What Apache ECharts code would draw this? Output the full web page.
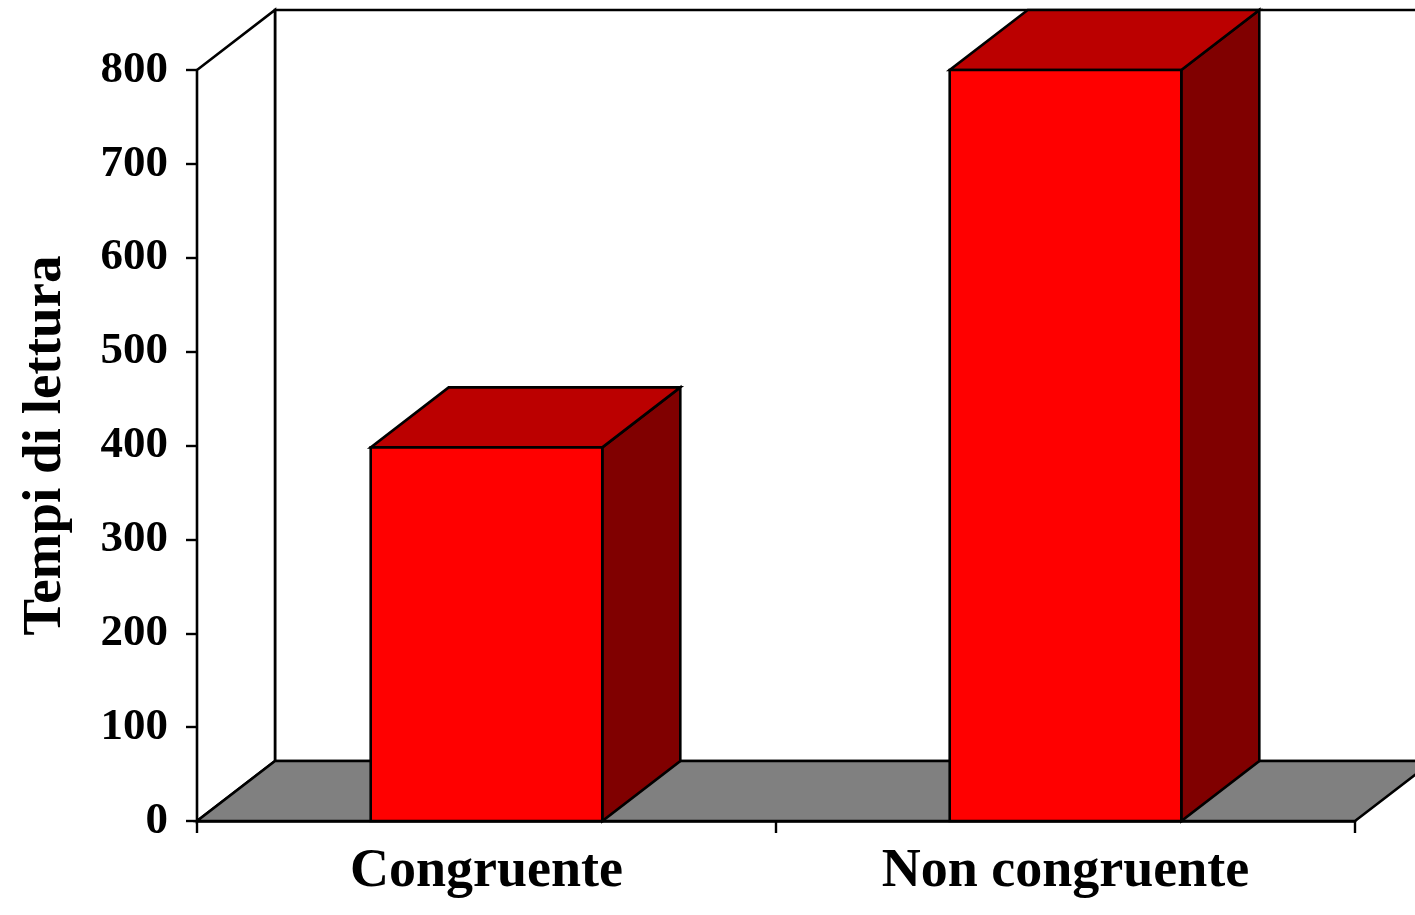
<!DOCTYPE html>
<html>
<head>
<meta charset="utf-8">
<title>Tempi di lettura</title>
<script src="https://cdn.jsdelivr.net/npm/echarts@6/dist/echarts.min.js"></script>
<style>
  html, body { margin: 0; padding: 0; background: #ffffff; }
  #chart { width: 1415px; height: 915px; }
</style>
</head>
<body>
<div id="chart"></div>
<script>
// Categories and mean reading times
const categories = ['Congruente', 'Non congruente'];
const readingTimes = [398, 800];

// Value axis range
const yMin = 0;
const yMax = 800;
const yStep = 100;
const yTitle = 'Tempi di lettura';

// Oblique depth of the 3D box (pixels)
const DEPTH_X = 78;
const DEPTH_Y = -60;
const FONT = '"Liberation Serif", "Times New Roman", serif';

const chart = echarts.init(document.getElementById('chart'), null, { renderer: 'canvas' });

const edge = { stroke: '#000000', lineWidth: 2.6, lineJoin: 'miter' };

// Walls and floor of the 3D plot area, built from the grid rectangle
function renderFrame(params, api) {
  const cs = params.coordSys;
  const x0 = cs.x, x1 = cs.x + cs.width;
  const yt = cs.y, yb = cs.y + cs.height;
  const dx = DEPTH_X, dy = DEPTH_Y;
  return {
    type: 'group',
    children: [
      { type: 'polygon', shape: { points: [[x0 + dx, yt + dy], [x1 + dx, yt + dy], [x1 + dx, yb + dy], [x0 + dx, yb + dy]] },
        style: Object.assign({ fill: '#ffffff' }, edge) },
      { type: 'polygon', shape: { points: [[x0, yt], [x0 + dx, yt + dy], [x0 + dx, yb + dy], [x0, yb]] },
        style: Object.assign({ fill: '#ffffff' }, edge) },
      { type: 'polygon', shape: { points: [[x0, yb], [x1, yb], [x1 + dx, yb + dy], [x0 + dx, yb + dy]] },
        style: Object.assign({ fill: '#808080' }, edge) }
    ]
  };
}

// One 3D column: front, top and right side faces
function renderBar(params, api) {
  const idx = api.value(0);
  const base = api.coord([idx, 0]);
  const top = api.coord([idx, api.value(1)]);
  const w = api.size([1, 0])[0] * 0.4;
  const x0 = base[0] - w / 2, x1 = base[0] + w / 2;
  const yb = base[1], yt = top[1];
  const dx = DEPTH_X, dy = DEPTH_Y;
  return {
    type: 'group',
    children: [
      { type: 'polygon', shape: { points: [[x1, yt], [x1 + dx, yt + dy], [x1 + dx, yb + dy], [x1, yb]] },
        style: Object.assign({ fill: '#800000' }, edge) },
      { type: 'polygon', shape: { points: [[x0, yt], [x1, yt], [x1 + dx, yt + dy], [x0 + dx, yt + dy]] },
        style: Object.assign({ fill: '#bb0000' }, edge) },
      { type: 'rect', shape: { x: x0, y: yt, width: w, height: yb - yt },
        style: Object.assign({ fill: '#ff0000' }, edge) }
    ]
  };
}

chart.setOption({
  animation: false,
  backgroundColor: '#ffffff',
  grid: { left: 197, right: 60, top: 70, bottom: 94, containLabel: false },
  xAxis: {
    type: 'category',
    data: categories,
    boundaryGap: true,
    axisLine: { show: true, lineStyle: { color: '#000000', width: 2.6 } },
    axisTick: { show: true, length: 12, interval: 0, alignWithLabel: false, lineStyle: { color: '#000000', width: 2.4 } },
    axisLabel: { color: '#000000', fontFamily: FONT, fontWeight: 'bold', fontSize: 54, margin: 24, interval: 0 },
    splitLine: { show: false }
  },
  yAxis: {
    type: 'value',
    min: yMin,
    max: yMax,
    interval: yStep,
    name: yTitle,
    nameLocation: 'middle',
    nameRotate: 90,
    nameGap: 124,
    nameTextStyle: { color: '#000000', fontFamily: FONT, fontWeight: 'bold', fontSize: 55 },
    axisLine: { show: true, lineStyle: { color: '#000000', width: 2.6 } },
    axisTick: { show: true, length: 11, lineStyle: { color: '#000000', width: 2.4 } },
    axisLabel: { color: '#000000', fontFamily: FONT, fontWeight: 'bold', fontSize: 45, margin: 29 },
    splitLine: { show: false }
  },
  series: [
    {
      type: 'custom',
      name: 'frame',
      z: 1,
      silent: true,
      renderItem: renderFrame,
      data: [[0, 0]],
      encode: { x: 0, y: 1 }
    },
    {
      type: 'custom',
      name: yTitle,
      z: 3,
      renderItem: renderBar,
      data: readingTimes.map((v, i) => [i, v]),
      encode: { x: 0, y: 1 }
    }
  ]
});
</script>
</body>
</html>
